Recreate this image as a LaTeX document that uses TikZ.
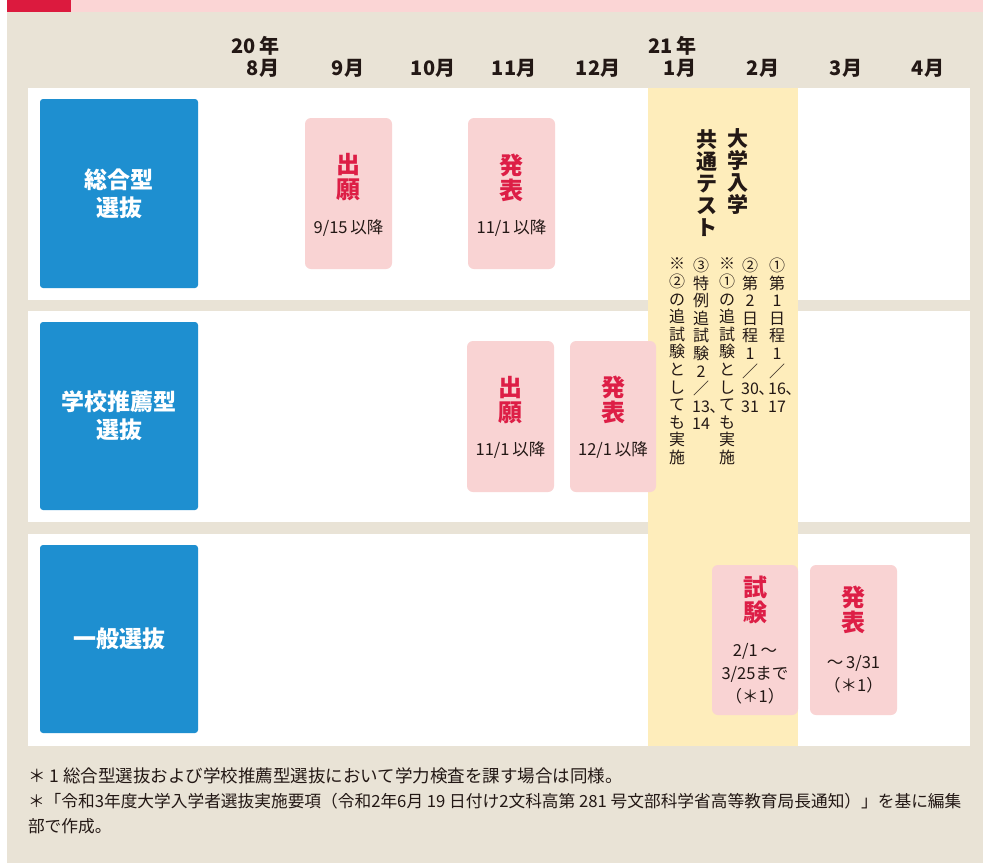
\documentclass[tikz,border=0pt]{standalone}
\usepackage{fontspec}
\setmainfont{Noto Sans CJK JP}
\definecolor{bg}{RGB}{233,227,214}
\definecolor{hdrred}{RGB}{220,26,62}
\definecolor{hdrpink}{RGB}{251,213,213}
\definecolor{blu}{RGB}{30,143,208}
\definecolor{yel}{RGB}{254,237,187}
\definecolor{pbox}{RGB}{249,211,211}
\definecolor{rtext}{RGB}{221,30,70}
\definecolor{dtext}{RGB}{35,24,21}
\newcommand\tc{\rlap{､}}
\begin{document}
\begin{tikzpicture}[x=1pt,y=-1pt,
  every node/.style={inner sep=0pt, outer sep=0pt, text=dtext},
  bluebox/.style={fill=blu, rounded corners=3pt, minimum width=158pt, text=white, align=center,
     font=\fontsize{23}{28}\selectfont\bfseries},
  pinkbox/.style={fill=pbox, rounded corners=6pt, minimum width=87pt, minimum height=151pt},
  head/.style={text=rtext, align=center, font=\fontsize{24}{25}\selectfont\bfseries},
  sub/.style={align=center, font=\fontsize{16.5}{23}\selectfont},
  month/.style={font=\fontsize{20}{20}\selectfont\bfseries},
  year/.style={anchor=east, font=\fontsize{20}{20}\selectfont\bfseries},
  vbig/.style={align=center, font=\fontsize{21}{22}\selectfont\bfseries},
  vsmall/.style={anchor=north, align=center, font=\fontsize{16}{17.6}\selectfont},
  note/.style={anchor=west, font=\fontsize{16.7}{16.7}\selectfont}
]
\useasboundingbox (0,0) rectangle (983,863);
% background and header band
\fill[bg] (7,12) rectangle (983,863);
\fill[hdrred] (7,0) rectangle (71,12);
\fill[hdrpink] (71,0) rectangle (983,12);
% rows
\fill[white] (28,88) rectangle (970,300);
\fill[white] (28,311) rectangle (970,522);
\fill[white] (28,534) rectangle (970,746);
% yellow column
\fill[yel] (648,88) rectangle (798,746);

% year and month labels
\node[month] (m8) at (263,68) {8月};
\node[month] (m9) at (348,68) {9月};
\node[month] (m10) at (433,68) {10月};
\node[month] (m11) at (514,68) {11月};
\node[month] (m12) at (598,68) {12月};
\node[month] (m1) at (680,68) {1月};
\node[month] (m2) at (763,68) {2月};
\node[month] (m3) at (846,68) {3月};
\node[month] (m4) at (928,68) {4月};
\node[year] (y20) at (m8.east |- 0,46) {20\,年};
\node[year] (y21) at (m1.east |- 0,46) {21\,年};

% category boxes
\node[bluebox, minimum height=189pt] (sogo) at (119,193.5) {総合型\\選抜};
\node[bluebox, minimum height=188pt] (suisen) at (119,416) {学校推薦型\\選抜};
\node[bluebox, minimum height=188pt] (ippan) at (119,639) {一般選抜};

% row 1
\node[pinkbox] (r1a) at (348.5,193.5) {};
\node[head] (r1ah) at (348.5,177.5) {出\\願};
\node[sub] (r1as) at (348.5,228.5) {9/15\,以降};
\node[pinkbox] (r1b) at (511.5,193.5) {};
\node[head] (r1bh) at (511.5,177.5) {発\\表};
\node[sub] (r1bs) at (511.5,228.5) {11/1\,以降};

% row 2
\node[pinkbox] (r2a) at (510.5,416.5) {};
\node[head] (r2ah) at (510.5,400) {出\\願};
\node[sub] (r2as) at (510.5,450.5) {11/1\,以降};
\node[pinkbox, minimum width=86pt] (r2b) at (613,416.5) {};
\node[head] (r2bh) at (613,400) {発\\表};
\node[sub] (r2bs) at (613,450.5) {12/1\,以降};

% row 3
\node[pinkbox, minimum width=86pt, minimum height=150pt] (r3a) at (755,640) {};
\node[head] (r3ah) at (755,599.5) {試\\験};
\node[sub] (r3as) at (755,674) {2/1\,～\\3/25まで\\（＊1）};
\node[pinkbox, minimum height=150pt] (r3b) at (853.5,640) {};
\node[head] (r3bh) at (853.5,609.5) {発\\表};
\node[sub] (r3bs) at (853.5,674.5) {～\,3/31\\（＊1）};

% common test (vertical text)
\node[vbig] (ct1) at (738,172) {大\\学\\入\\学};
\node[vbig] (ct2) at (707,183) {共\\通\\テ\\ス\\ト};
\node[vsmall] (c1) at (777,258) {①\\第\\1\\日\\程\\1\\／\\16\tc\\17};
\node[vsmall] (c2) at (750,258) {②\\第\\2\\日\\程\\1\\／\\30\tc\\31};
\node[vsmall] (c3) at (727,258) {※\\①\\の\\追\\試\\験\\と\\し\\て\\も\\実\\施};
\node[vsmall] (c4) at (701,258) {③\\特\\例\\追\\試\\験\\2\\／\\13\tc\\14};
\node[vsmall] (c5) at (677,258) {※\\②\\の\\追\\試\\験\\と\\し\\て\\も\\実\\施};

% notes
\node[note, font=\fontsize{17.5}{17.5}\selectfont] (n1) at (28,776) {＊ 1 総合型選抜および学校推薦型選抜において学力検査を課す場合は同様。};
\node[note] (n2) at (28,801) {＊「令和3年度大学入学者選抜実施要項（令和2年6月 19 日付け2文科高第 281 号文部科学省高等教育局長通知）」を基に編集};
\node[note] (n3) at (28,826) {部で作成。};
\end{tikzpicture}
\end{document}
